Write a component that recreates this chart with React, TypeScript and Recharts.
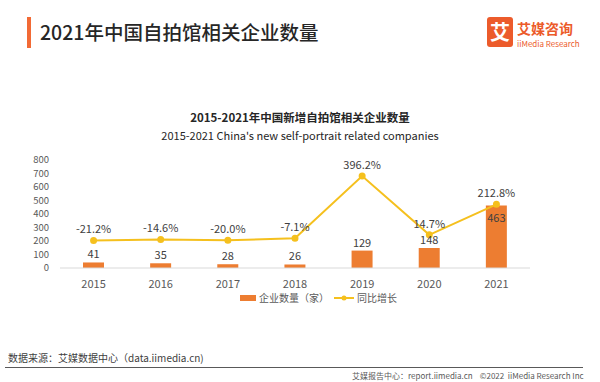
import { ComposedChart, Bar, Line, XAxis, YAxis, LabelList } from 'recharts'

const years = ['2015', '2016', '2017', '2018', '2019', '2020', '2021']
const companies = [41, 35, 28, 26, 129, 148, 463]
const growth = [-21.2, -14.6, -20.0, -7.1, 396.2, 14.7, 212.8]
const countTicks = [0, 100, 200, 300, 400, 500, 600, 700, 800]

const data = years.map((year, i) => ({ year, companies: companies[i], growth: growth[i] }))

const ORANGE = '#ED7D31'
const GOLD = '#F5C01E'
const FONT = '"Noto Sans CJK SC", "Noto Sans", sans-serif'

const BarValue = (props: any) => {
  const { x, y, width, value } = props
  // the last bar carries its label just inside the top, like the source
  const inside = value > 400
  return (
    <text x={x + width / 2} y={inside ? y + 17 : y - 4} textAnchor="middle" fontSize={11} fill="#404040">
      {value}
    </text>
  )
}

const GrowthValue = (props: any) => {
  const { x, y, value } = props
  return (
    <text x={x} y={y - 7} textAnchor="middle" fontSize={11} fill="#404040">
      {value.toFixed(1)}%
    </text>
  )
}

export default function App() {
  return (
    <div style={{ position: 'absolute', left: 0, top: 0, width: 600, height: 382, background: '#fff', fontFamily: FONT, overflow: 'hidden' }}>
      {/* header */}
      <div style={{ position: 'absolute', left: 27, top: 17, width: 4, height: 31, background: '#F26A35' }} />
      <div style={{ position: 'absolute', left: 40, top: 18, fontSize: 19.5, lineHeight: '28px', color: '#262626', fontWeight: 500 }}>
        2021年中国自拍馆相关企业数量
      </div>
      <div style={{ position: 'absolute', left: 487, top: 17, width: 26, height: 30, background: '#EC5B2B', borderRadius: 3, color: '#fff', fontSize: 20, lineHeight: '30px', textAlign: 'center', fontWeight: 700 }}>
        艾
      </div>
      <div style={{ position: 'absolute', left: 517, top: 19, fontSize: 14, lineHeight: '18px', color: '#EC5B2B', fontWeight: 700 }}>
        艾媒咨询
      </div>
      <div style={{ position: 'absolute', left: 517, top: 38, fontSize: 8, lineHeight: '11px', color: '#EC5B2B' }}>
        iiMedia Research
      </div>

      {/* chart titles */}
      <div style={{ position: 'absolute', left: 0, top: 109, width: 600, textAlign: 'center', fontSize: 11.5, lineHeight: '16px', fontWeight: 700, color: '#262626' }}>
        2015-2021年中国新增自拍馆相关企业数量
      </div>
      <div style={{ position: 'absolute', left: 0, top: 128, width: 600, textAlign: 'center', fontSize: 11, lineHeight: '15px', color: '#262626' }}>
        2015-2021 China's new self-portrait related companies
      </div>

      <div style={{ position: 'absolute', left: 0, top: 0 }}>
        <ComposedChart width={600} height={382} data={data} margin={{ top: 160, right: 70, bottom: 84, left: 0 }}>
          <XAxis
            dataKey="year"
            height={30}
            axisLine={{ stroke: '#D9D9D9' }}
            tickLine={false}
            tick={{ fontSize: 11, fill: '#595959' }}
            tickMargin={6}
          />
          <YAxis
            yAxisId="left"
            width={60}
            domain={[0, 800]}
            ticks={countTicks}
            interval={0}
            axisLine={false}
            tickLine={false}
            tick={{ fontSize: 9.5, fill: '#595959' }}
            tickMargin={5}
          />
          <YAxis yAxisId="right" orientation="right" domain={[-200, 500]} hide />
          <Bar yAxisId="left" dataKey="companies" name="企业数量（家）" fill={ORANGE} barSize={21} isAnimationActive={false}>
            <LabelList dataKey="companies" content={<BarValue />} />
          </Bar>
          <Line
            yAxisId="right"
            dataKey="growth"
            name="同比增长"
            stroke={GOLD}
            strokeWidth={2}
            dot={{ r: 2.5, fill: GOLD, stroke: GOLD }}
            isAnimationActive={false}
          >
            <LabelList dataKey="growth" content={<GrowthValue />} />
          </Line>
        </ComposedChart>
      </div>

      {/* legend */}
      <div style={{ position: 'absolute', left: 240, top: 291, display: 'flex', alignItems: 'center', fontSize: 10, lineHeight: '14px', color: '#595959', whiteSpace: 'nowrap' }}>
        <span style={{ width: 16, height: 6, background: ORANGE, display: 'inline-block', marginRight: 3 }} />
        <span style={{ marginRight: 5 }}>企业数量（家）</span>
        <svg width={20} height={8} style={{ marginRight: 3 }}>
          <line x1={0} y1={4} x2={20} y2={4} stroke={GOLD} strokeWidth={2} />
          <circle cx={10} cy={4} r={2.5} fill={GOLD} />
        </svg>
        <span>同比增长</span>
      </div>

      {/* footer */}
      <div style={{ position: 'absolute', left: 8, top: 351, fontSize: 10, lineHeight: '14px', color: '#404040' }}>
        数据来源：艾媒数据中心（data.iimedia.cn)
      </div>
      <div style={{ position: 'absolute', left: 5, top: 367, width: 578, height: 1, background: '#595959' }} />
      <div style={{ position: 'absolute', left: 352, top: 370, fontSize: 8, lineHeight: '12px', color: '#595959', whiteSpace: 'nowrap' }}>
        艾媒报告中心：report.iimedia.cn&nbsp;&nbsp;&nbsp;&nbsp;©2022&nbsp;&nbsp;iiMedia Research Inc
      </div>
    </div>
  )
}
